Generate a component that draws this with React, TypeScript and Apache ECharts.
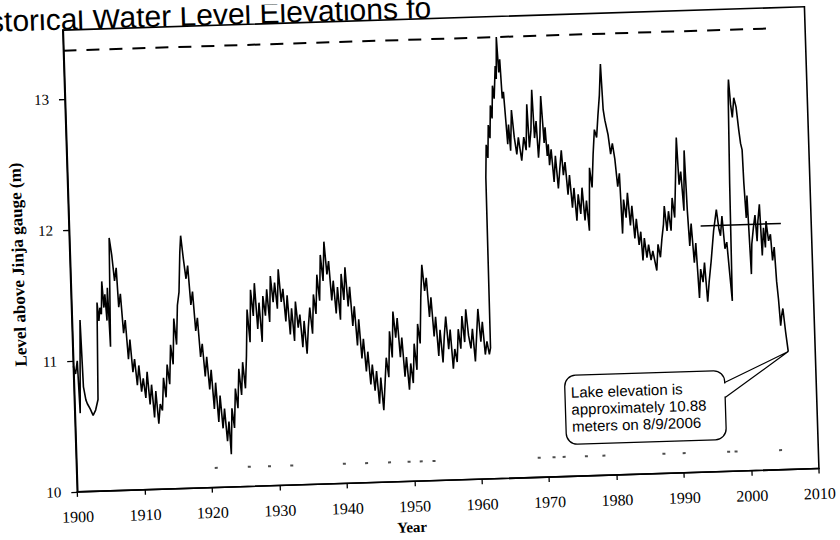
import React, { useEffect, useRef } from "react";
import * as echarts from "echarts";

const xTickYears = [1900, 1910, 1920, 1930, 1940, 1950, 1960, 1970, 1980, 1990, 2000, 2010];
const yTickLevels = [10, 11, 12, 13];

// [year, level above Jinja gauge (m)], decade by decade
const levels1900s = [
  [1900.0, 10.96], [1900.3, 10.9], [1900.6, 11.0], [1900.8, 10.6], [1901.2, 11.31], [1901.4, 10.8], [1901.7, 10.7],
  [1901.9, 10.67], [1902.3, 10.63], [1902.7, 10.58], [1903.1, 10.62], [1903.5, 10.7], [1903.8, 11.44], [1904.0, 11.3],
  [1904.2, 11.4], [1904.4, 11.35], [1904.6, 11.6], [1904.8, 11.4], [1905.0, 11.5], [1905.2, 11.3], [1905.4, 11.55],
  [1905.6, 11.1], [1905.9, 11.93], [1906.2, 11.8], [1906.5, 11.6], [1906.8, 11.7], [1907.0, 11.4], [1907.3, 11.5],
  [1907.6, 11.2], [1907.9, 11.3], [1908.2, 11.0], [1908.5, 11.15], [1908.8, 10.9], [1909.1, 11.0], [1909.4, 10.8],
  [1909.7, 10.95],
];
const levels1910s = [
  [1910.0, 10.75], [1910.3, 10.85], [1910.6, 10.7], [1910.9, 10.9], [1911.2, 10.65], [1911.5, 10.8], [1911.8, 10.55],
  [1912.1, 10.75], [1912.4, 10.5], [1912.7, 10.65], [1913.0, 10.6], [1913.3, 10.85], [1913.6, 10.7], [1913.9, 10.95],
  [1914.2, 10.8], [1914.5, 11.1], [1914.8, 10.95], [1915.1, 11.3], [1915.4, 11.1], [1915.7, 11.4], [1916.0, 11.5],
  [1916.3, 11.8], [1916.5, 11.93], [1916.8, 11.75], [1917.1, 11.6], [1917.4, 11.7], [1917.7, 11.4], [1918.0, 11.5],
  [1918.3, 11.2], [1918.6, 11.3], [1918.9, 11.0], [1919.2, 11.1], [1919.5, 10.85], [1919.8, 11.0],
];
const levels1920s = [
  [1920.1, 10.75], [1920.4, 10.9], [1920.7, 10.6], [1921.0, 10.8], [1921.3, 10.5], [1921.6, 10.7], [1921.9, 10.45],
  [1922.2, 10.6], [1922.5, 10.35], [1922.8, 10.5], [1923.0, 10.25], [1923.3, 10.6], [1923.6, 10.45], [1923.9, 10.75],
  [1924.2, 10.6], [1924.5, 10.9], [1924.8, 10.7], [1925.1, 10.95], [1925.4, 10.75], [1925.7, 11.0], [1926.0, 11.35],
  [1926.3, 11.1], [1926.6, 11.5], [1926.9, 11.3], [1927.2, 11.55], [1927.5, 11.2], [1927.8, 11.4], [1928.1, 11.1],
  [1928.4, 11.45], [1928.7, 11.3], [1929.0, 11.5], [1929.3, 11.25], [1929.6, 11.6], [1929.9, 11.4],
];
const levels1930s = [
  [1930.2, 11.55], [1930.5, 11.35], [1930.8, 11.65], [1931.1, 11.4], [1931.4, 11.5], [1931.7, 11.25], [1932.0, 11.45],
  [1932.3, 11.15], [1932.6, 11.35], [1932.9, 11.1], [1933.2, 11.4], [1933.5, 11.2], [1933.8, 11.3], [1934.1, 11.05],
  [1934.4, 11.25], [1934.7, 11.0], [1935.0, 11.2], [1935.3, 11.35], [1935.6, 11.15], [1935.9, 11.45], [1936.2, 11.3],
  [1936.5, 11.6], [1936.8, 11.4], [1937.1, 11.75], [1937.4, 11.55], [1937.7, 11.85], [1938.0, 11.6], [1938.3, 11.7],
  [1938.6, 11.4], [1938.9, 11.55], [1939.2, 11.3], [1939.5, 11.5], [1939.8, 11.25],
];
const levels1940s = [
  [1940.1, 11.6], [1940.4, 11.4], [1940.7, 11.65], [1941.0, 11.35], [1941.3, 11.5], [1941.6, 11.2], [1941.9, 11.35],
  [1942.2, 11.05], [1942.5, 11.25], [1942.8, 10.95], [1943.1, 11.1], [1943.4, 10.85], [1943.7, 11.0], [1944.0, 10.75],
  [1944.3, 10.9], [1944.6, 10.7], [1944.9, 10.85], [1945.2, 10.6], [1945.5, 10.8], [1945.8, 10.55], [1946.1, 10.75],
  [1946.4, 10.95], [1946.7, 10.8], [1947.0, 11.15], [1947.3, 10.95], [1947.6, 11.3], [1947.9, 11.1], [1948.2, 11.25],
  [1948.5, 10.95], [1948.8, 11.1], [1949.1, 10.8], [1949.4, 10.95], [1949.7, 10.7],
];
const levels1950s = [
  [1950.0, 10.9], [1950.3, 10.75], [1950.6, 11.05], [1950.9, 10.85], [1951.2, 11.2], [1951.5, 11.05], [1951.8, 11.4],
  [1952.1, 11.65], [1952.4, 11.45], [1952.7, 11.55], [1953.0, 11.25], [1953.3, 11.4], [1953.6, 11.1], [1953.9, 11.25],
  [1954.2, 10.95], [1954.5, 11.15], [1954.8, 10.9], [1955.1, 11.1], [1955.4, 11.25], [1955.7, 11.0], [1956.0, 11.15],
  [1956.3, 10.85], [1956.6, 11.0], [1956.9, 10.9], [1957.2, 11.15], [1957.5, 11.0], [1957.8, 11.25], [1958.1, 11.05],
  [1958.4, 11.3], [1958.7, 11.1], [1959.0, 11.0], [1959.3, 11.15], [1959.6, 10.9], [1959.9, 11.1],
];
const levels1960s = [
  [1960.2, 11.3], [1960.5, 11.05], [1960.8, 11.2], [1961.1, 10.95], [1961.4, 11.05], [1961.7, 10.95], [1961.9, 11.0],
  [1962.0, 12.3], [1962.2, 12.55], [1962.4, 12.45], [1962.6, 12.7], [1962.8, 12.6], [1963.0, 12.85], [1963.2, 12.75],
  [1963.4, 13.0], [1963.6, 12.9], [1963.9, 13.15], [1964.0, 13.05], [1964.2, 13.37], [1964.4, 13.1], [1964.6, 13.2],
  [1964.8, 12.9], [1965.0, 12.95], [1965.2, 12.75], [1965.4, 12.55], [1965.6, 12.7], [1965.8, 12.5], [1966.1, 12.81],
  [1966.4, 12.6], [1966.7, 12.47], [1967.0, 12.6], [1967.4, 12.42], [1967.8, 12.6], [1968.1, 12.5], [1968.4, 12.85],
  [1968.6, 12.52], [1968.9, 12.65], [1969.2, 12.96], [1969.4, 12.59], [1969.7, 12.72], [1969.9, 12.44],
];
const levels1970s = [
  [1970.2, 12.6], [1970.5, 12.91], [1970.8, 12.55], [1971.0, 12.67], [1971.2, 12.45], [1971.4, 12.54], [1971.5, 12.38],
  [1971.8, 12.5], [1972.1, 12.25], [1972.4, 12.45], [1972.7, 12.2], [1973.0, 12.35], [1973.3, 12.49], [1973.5, 12.3],
  [1973.8, 12.4], [1974.1, 12.15], [1974.4, 12.3], [1974.7, 12.05], [1975.0, 12.2], [1975.3, 11.95], [1975.6, 12.15],
  [1975.9, 12.0], [1976.2, 12.2], [1976.5, 11.95], [1976.8, 12.1], [1977.1, 11.87], [1977.4, 12.35], [1977.7, 12.2],
  [1978.0, 12.45], [1978.3, 12.64], [1978.6, 12.58], [1978.9, 12.75], [1979.2, 12.9], [1979.5, 13.14], [1979.7, 12.79],
  [1979.9, 12.71],
];
const levels1980s = [
  [1980.3, 12.6], [1980.6, 12.45], [1980.9, 12.53], [1981.2, 12.41], [1981.5, 12.2], [1981.8, 12.3], [1982.0, 11.84],
  [1982.3, 12.1], [1982.6, 11.96], [1982.9, 12.15], [1983.2, 11.9], [1983.5, 12.05], [1983.8, 11.8], [1984.1, 11.95],
  [1984.4, 11.75], [1984.7, 11.85], [1984.9, 11.63], [1985.2, 11.8], [1985.5, 11.65], [1985.8, 11.75], [1986.1, 11.63],
  [1986.4, 11.7], [1986.9, 11.55], [1987.2, 11.75], [1987.5, 11.65], [1987.8, 11.79], [1988.1, 11.9], [1988.3, 12.04],
  [1988.6, 11.85], [1988.9, 12.0], [1989.2, 11.85], [1989.5, 12.1], [1989.8, 11.95],
];
const levels1990s = [
  [1990.1, 12.25], [1990.4, 12.56], [1990.6, 12.2], [1990.9, 12.3], [1991.2, 12.0], [1991.5, 12.46], [1991.7, 12.0],
  [1991.9, 11.73], [1992.2, 11.9], [1992.5, 11.6], [1992.8, 11.75], [1993.1, 11.33], [1993.4, 11.55], [1993.7, 11.45],
  [1994.0, 11.6], [1994.3, 11.3], [1994.6, 11.45], [1994.8, 11.53], [1995.0, 11.61], [1995.5, 11.84], [1996.0, 12.0],
  [1996.3, 11.85], [1996.5, 11.8], [1996.8, 11.95], [1997.1, 11.7], [1997.4, 11.75], [1997.7, 11.5], [1997.95, 11.3],
  [1998.1, 12.2], [1998.3, 12.9], [1998.4, 12.99], [1998.6, 12.8], [1998.8, 12.7], [1999.1, 12.85], [1999.4, 12.78],
  [1999.7, 12.6], [1999.9, 12.5],
];
const levels2000s = [
  [2000.1, 12.45], [2000.2, 12.2], [2000.4, 11.93], [2000.6, 12.1], [2000.9, 11.5], [2001.1, 11.73], [2001.4, 11.85],
  [2001.7, 11.95], [2001.9, 11.75], [2002.1, 11.9], [2002.4, 12.03], [2002.6, 11.64], [2002.9, 11.85], [2003.1, 11.7],
  [2003.3, 11.9], [2003.6, 11.75], [2003.9, 11.8], [2004.1, 11.6], [2004.4, 11.7], [2004.6, 11.44], [2004.8, 11.3],
  [2005.0, 11.1], [2005.2, 11.18], [2005.4, 11.23], [2005.7, 11.05], [2006.0, 10.9],
];

const highWaterLevel = 13.37;
const highWaterYears = [1900, 2004.2];
const recentRefLevel = 11.88;
const recentRefYears = [1993.6, 2005.5];
const lowDotYears = [1920.7, 1925.6, 1928.6, 1931.9, 1939.7, 1943.0, 1946.4, 1949.3, 1951.1, 1953.0,
  1968.6, 1970.8, 1972.3, 1975.6, 1978.2, 1987.1, 1990.1, 1996.7, 1997.8, 2004.4];
const lowDotLevel = 10.15;

const titleText = "storical Water Level Elevations fo";
const yAxisTitle = "Level above Jinja gauge (m)";
const xAxisTitle = "Year";
const calloutLines = ["Lake elevation is", "approximately 10.88", "meters on 8/9/2006"];

const SERIF = '"Liberation Serif", "Times New Roman", serif';
const SANS = '"Liberation Sans", Arial, sans-serif';

export default function App() {
  const ref = useRef<HTMLDivElement>(null);
  useEffect(() => {
    if (!ref.current) return;
    const chart = echarts.init(ref.current, undefined, { renderer: "svg" });
    const series = [
      ...levels1900s, ...levels1910s, ...levels1920s, ...levels1930s, ...levels1940s,
      ...levels1950s, ...levels1960s, ...levels1970s, ...levels1980s, ...levels1990s, ...levels2000s,
    ];
    const grid = { left: 70.5, top: 19, width: 742, height: 462 };
    chart.setOption({
      animation: false,
      backgroundColor: "#fff",
      grid: { ...grid, show: true, borderColor: "#000", borderWidth: 1.6, backgroundColor: "transparent" },
      xAxis: {
        type: "value",
        min: 1900,
        max: 2010,
        interval: 10,
        splitLine: { show: false },
        axisLine: { lineStyle: { color: "#000", width: 1.6 } },
        axisTick: { show: true, length: 5, inside: false, lineStyle: { color: "#000", width: 1.3 } },
        axisLabel: {
          color: "#000",
          fontFamily: SERIF,
          fontSize: 16,
          margin: 17,
          formatter: (v: number) => (xTickYears.includes(v) ? String(v) : ""),
        },
      },
      yAxis: {
        type: "value",
        min: 10,
        max: 13.527,
        interval: 1,
        splitLine: { show: false },
        axisLine: { lineStyle: { color: "#000", width: 1.6 } },
        axisTick: { show: true, length: 6, inside: false, customValues: yTickLevels, lineStyle: { color: "#000", width: 1.3 } },
        axisLabel: {
          color: "#000",
          fontFamily: SERIF,
          fontSize: 15,
          margin: 16,
          customValues: yTickLevels,
          formatter: (v: number) => (yTickLevels.includes(v) ? String(v) : ""),
        },
      },
      series: [
        {
          name: "Level",
          type: "line",
          data: series,
          showSymbol: false,
          symbol: "none",
          lineStyle: { color: "#000", width: 1.6 },
          z: 3,
        },
        {
          name: "High water",
          type: "line",
          data: highWaterYears.map((y) => [y, highWaterLevel]),
          showSymbol: false,
          symbol: "none",
          lineStyle: { color: "#000", width: 2, type: [13, 10] },
          z: 2,
        },
        {
          name: "Reference",
          type: "line",
          data: recentRefYears.map((y) => [y, recentRefLevel]),
          showSymbol: false,
          symbol: "none",
          lineStyle: { color: "#000", width: 1.5 },
          z: 2,
        },
        {
          name: "Low marks",
          type: "scatter",
          data: lowDotYears.map((y) => [y, lowDotLevel]),
          symbol: "rect",
          symbolSize: [3, 2],
          itemStyle: { color: "#222" },
          z: 2,
        },
      ],
    });

    const last = series[series.length - 1];
    const tip = chart.convertToPixel({ gridIndex: 0 }, last) as number[];
    const box = { x: 561, y: 380, w: 160, h: 69 };
    const b1 = [box.x + box.w, box.y + 12];
    const b2 = [box.x + box.w, box.y + 27];

    chart.setOption({
      graphic: [
        {
          type: "text",
          x: -3,
          y: 23,
          style: { text: titleText, font: `30px ${SANS}`, fill: "#000", verticalAlign: "bottom" },
        },
        {
          type: "text",
          x: 18.5,
          y: 252,
          rotation: Math.PI / 2,
          style: { text: yAxisTitle, font: `bold 17px ${SERIF}`, fill: "#000", align: "center", verticalAlign: "middle" },
        },
        {
          type: "text",
          x: 404,
          y: 527,
          style: { text: xAxisTitle, font: `bold 15px ${SERIF}`, fill: "#000", align: "center", verticalAlign: "middle" },
        },
        {
          type: "rect",
          shape: { x: box.x, y: box.y, width: box.w, height: box.h, r: 11 },
          style: { fill: "#fff", stroke: "#000", lineWidth: 1.3 },
          z: 10,
        },
        {
          type: "line",
          shape: { x1: b1[0], y1: b1[1] + 1, x2: b2[0], y2: b2[1] - 1 },
          style: { stroke: "#fff", lineWidth: 3 },
          z: 11,
        },
        {
          type: "polyline",
          shape: { points: [b1, tip, b2] },
          style: { fill: null, stroke: "#000", lineWidth: 1.2 },
          z: 11,
        },
        ...calloutLines.map((t, i) => ({
          type: "text",
          x: box.x + 6,
          y: box.y + 17 + i * 17,
          z: 12,
          style: { text: t, font: `15px ${SANS}`, fill: "#000", verticalAlign: "middle" },
        })),
      ],
    });
    return () => chart.dispose();
  }, []);
  return (
    <div
      ref={ref}
      style={{
        position: "absolute",
        left: 0,
        top: 0,
        width: 840,
        height: 540,
        transform: "rotate(-1.8deg)",
        transformOrigin: "420px 270px",
      }}
    />
  );
}
